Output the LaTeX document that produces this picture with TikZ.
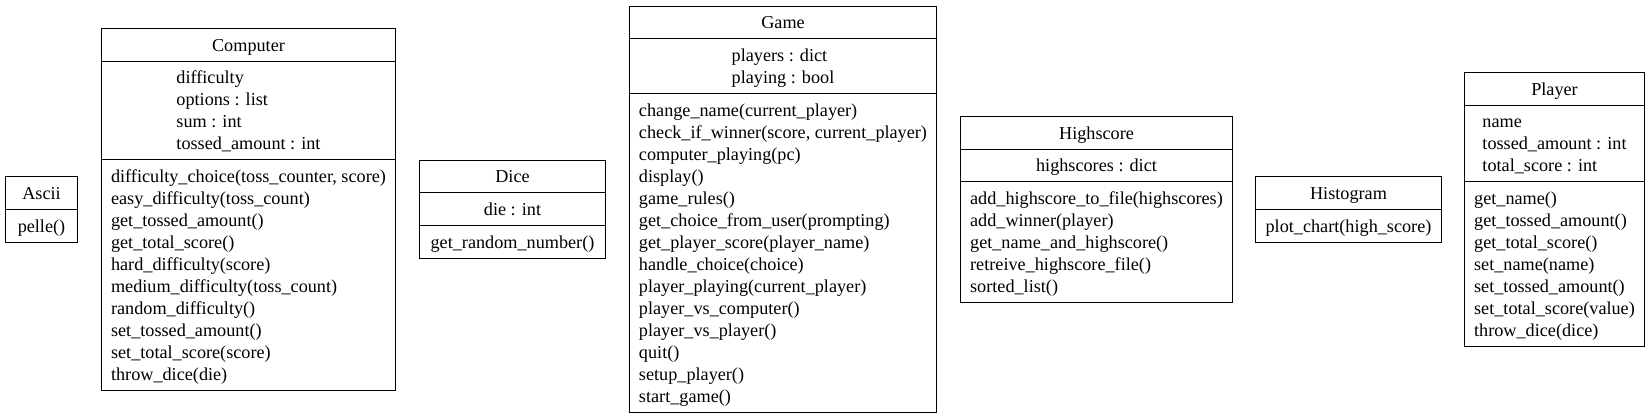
\documentclass[tikz,border=0pt]{standalone}
\usepackage{fontspec}
\setmainfont{Liberation Serif}
\newcommand\mystrut{\rule[-5pt]{0pt}{22pt}}
\begin{document}
\begin{tikzpicture}[x=1pt,y=1pt,
  umlpart/.style={draw, line width=1pt, inner sep=0pt, align=left, anchor=north west,
    font=\fontsize{18.2}{22}\selectfont}]
\useasboundingbox (0,0) rectangle (1650,-418);
% Ascii
\node[umlpart, minimum width=72pt, minimum height=33pt] (asciih) at (5,-176) {\mystrut Ascii};
\node[umlpart, minimum width=72pt, minimum height=33pt] (asciim) at (5,-209) {\mystrut pelle()};
% Computer
\node[umlpart, minimum width=294pt, minimum height=33pt] (comph) at (101,-28) {\mystrut Computer};
\node[umlpart, minimum width=294pt, minimum height=98pt] (compa) at (101,-61) {\mystrut difficulty\\\mystrut options : list\\\mystrut sum : int\\\mystrut tossed\_amount : int};
\node[umlpart, minimum width=294pt, minimum height=231pt] (compm) at (101,-159) {\mystrut difficulty\_choice(toss\_counter, score)\\\mystrut easy\_difficulty(toss\_count)\\\mystrut get\_tossed\_amount()\\\mystrut get\_total\_score()\\\mystrut hard\_difficulty(score)\\\mystrut medium\_difficulty(toss\_count)\\\mystrut random\_difficulty()\\\mystrut set\_tossed\_amount()\\\mystrut set\_total\_score(score)\\\mystrut throw\_dice(die)};
% Dice
\node[umlpart, minimum width=186pt, minimum height=32pt] (diceh) at (419,-160) {\mystrut Dice};
\node[umlpart, minimum width=186pt, minimum height=33pt] (dicea) at (419,-192) {\mystrut die : int};
\node[umlpart, minimum width=186pt, minimum height=33pt] (dicem) at (419,-225) {\mystrut get\_random\_number()};
% Game
\node[umlpart, minimum width=307pt, minimum height=32pt] (gameh) at (629,-6) {\mystrut Game};
\node[umlpart, minimum width=307pt, minimum height=55pt] (gamea) at (629,-38) {\mystrut players : dict\\\mystrut playing : bool};
\node[umlpart, minimum width=307pt, minimum height=319pt] (gamem) at (629,-93) {\mystrut change\_name(current\_player)\\\mystrut check\_if\_winner(score, current\_player)\\\mystrut computer\_playing(pc)\\\mystrut display()\\\mystrut game\_rules()\\\mystrut get\_choice\_from\_user(prompting)\\\mystrut get\_player\_score(player\_name)\\\mystrut handle\_choice(choice)\\\mystrut player\_playing(current\_player)\\\mystrut player\_vs\_computer()\\\mystrut player\_vs\_player()\\\mystrut quit()\\\mystrut setup\_player()\\\mystrut start\_game()};
% Highscore
\node[umlpart, minimum width=272pt, minimum height=33pt] (hsh) at (960,-116) {\mystrut Highscore};
\node[umlpart, minimum width=272pt, minimum height=32pt] (hsa) at (960,-149) {\mystrut highscores : dict};
\node[umlpart, minimum width=272pt, minimum height=121pt] (hsm) at (960,-181) {\mystrut add\_highscore\_to\_file(highscores)\\\mystrut add\_winner(player)\\\mystrut get\_name\_and\_highscore()\\\mystrut retreive\_highscore\_file()\\\mystrut sorted\_list()};
% Histogram
\node[umlpart, minimum width=186pt, minimum height=33pt] (histh) at (1255,-176) {\mystrut Histogram};
\node[umlpart, minimum width=186pt, minimum height=33pt] (histm) at (1255,-209) {\mystrut plot\_chart(high\_score)};
% Player
\node[umlpart, minimum width=180pt, minimum height=33pt] (plh) at (1464,-72) {\mystrut Player};
\node[umlpart, minimum width=180pt, minimum height=76pt] (pla) at (1464,-105) {\mystrut name\\\mystrut tossed\_amount : int\\\mystrut total\_score : int};
\node[umlpart, minimum width=180pt, minimum height=165pt] (plm) at (1464,-181) {\mystrut get\_name()\\\mystrut get\_tossed\_amount()\\\mystrut get\_total\_score()\\\mystrut set\_name(name)\\\mystrut set\_tossed\_amount()\\\mystrut set\_total\_score(value)\\\mystrut throw\_dice(dice)};
\end{tikzpicture}
\end{document}
